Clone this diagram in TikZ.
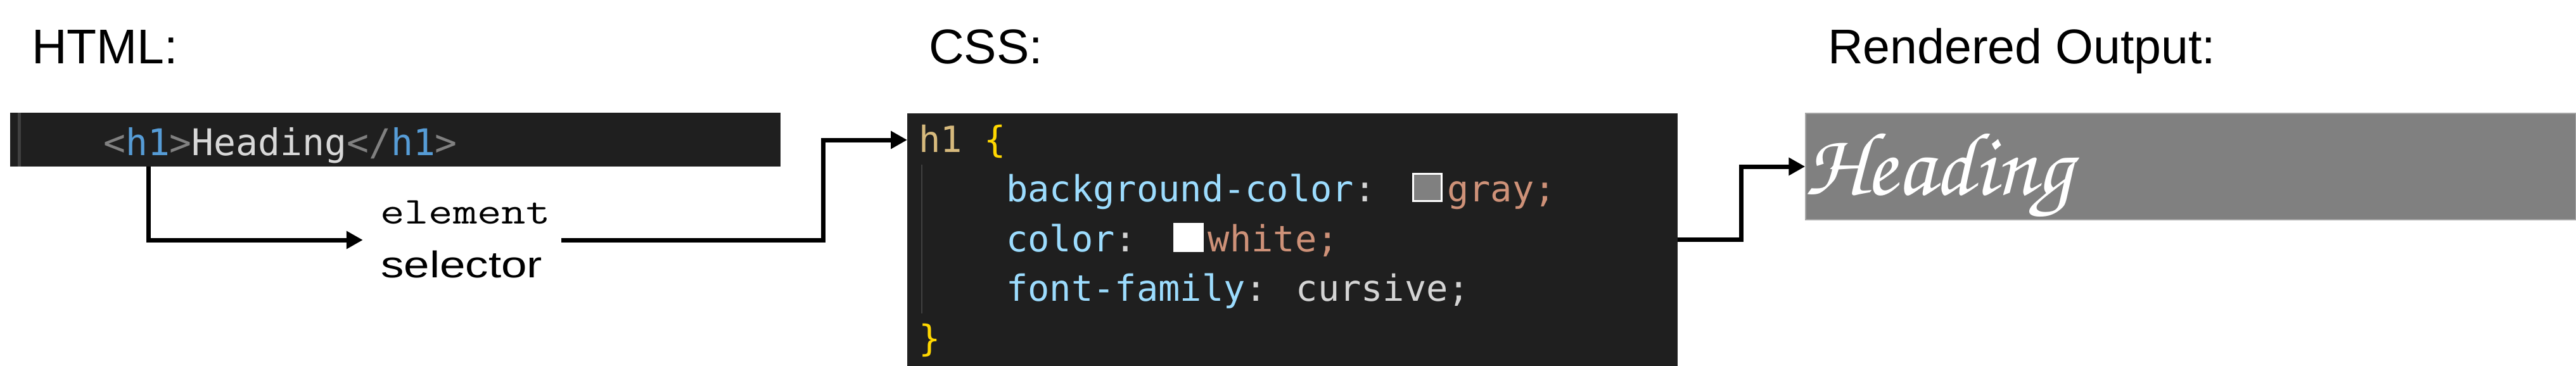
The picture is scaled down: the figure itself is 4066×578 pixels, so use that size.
\documentclass[tikz,border=0pt]{standalone}
\usepackage[T1,TU]{fontenc}
\usepackage{fontspec}
\usepackage{graphicx}
\setmainfont{Liberation Sans}
\newfontfamily\codefont{DejaVu Sans Mono}
\usetikzlibrary{arrows.meta}
\definecolor{codebg}{HTML}{1F1F1F}
\definecolor{guidec}{HTML}{404040}
\definecolor{propc}{HTML}{9CDCFE}
\definecolor{valc}{HTML}{CE9178}
\definecolor{punctc}{HTML}{D4D4D4}
\definecolor{selc}{HTML}{D7BA7D}
\definecolor{bracec}{HTML}{FFD700}
\definecolor{tagc}{HTML}{569CD6}
\definecolor{anglec}{HTML}{808080}
\definecolor{txtc}{HTML}{D8D8D8}
\definecolor{outgray}{HTML}{808080}
\definecolor{outborder}{HTML}{A6A6A6}
\newcommand\cssswatch[1]{\hspace*{12pt}\makebox[48pt][l]{\color{white}\rule[-1pt]{48pt}{46pt}\hspace{-45pt}\color{#1}\rule[2pt]{42pt}{40pt}}\hspace*{7pt}}
\newcommand\cursivefont{\fontencoding{T1}\fontfamily{pzc}\fontseries{mb}\fontshape{it}\fontsize{142}{150}\selectfont}
\begin{document}
\begin{tikzpicture}[x=1pt,y=-1pt,
  head/.style={inner sep=0pt, anchor=base west, font=\fontsize{77}{90}\selectfont},
  panel/.style={rectangle, fill=codebg, draw=none, inner sep=0pt},
  codeh/.style={inner sep=0pt, anchor=base west, font=\codefont\fontsize{58}{60}\selectfont},
  codec/.style={inner sep=0pt, anchor=base west, font=\codefont\fontsize{57}{60}\selectfont},
  conn/.style={line width=7pt, -{Triangle[length=26pt,width=27pt]}},
  gutter/.style={draw=guidec, line width=5pt},
  guide/.style={draw=guidec, line width=2pt}]
\useasboundingbox (0,0) rectangle (4066,578);

% headings
\node[head] (lhtml) at (50,100) {HTML:};
\node[head] (lcss) at (1466,100) {CSS:};
\node[head] (lout) at (2885,100) {Rendered Output:};

% HTML code bar
\node[panel, minimum width=1216pt, minimum height=85pt] (htmlbar) at (624,220.5) {};
\draw[gutter] (30,178) -- (30,263);
\node[codeh] (htmlcode) at (163,245) {\color{anglec}<\color{tagc}h1\color{anglec}>\color{txtc}Heading\color{anglec}</\color{tagc}h1\color{anglec}>};

% CSS code box
\node[panel, minimum width=1216pt, minimum height=399pt] (cssbox) at (2040,378.5) {};
\draw[guide] (1455,260) -- (1455,495);
\node[codec] (c1) at (1450,240) {\color{selc}h1 \color{bracec}\{};
\node[codec] (c2) at (1588,318) {\color{propc}background-color\color{punctc}: \cssswatch{outgray}\color{valc}gray;};
\node[codec] (c3) at (1588,397) {\color{propc}color\color{punctc}: \cssswatch{white}\color{valc}white;};
\node[codec] (c4) at (1588,475) {\color{propc}font-family\color{punctc}: cursive;};
\node[codec] (c5) at (1450,554) {\color{bracec}\}};

% rendered output
\node[rectangle, fill=outgray, draw=outborder, line width=1.5pt, inner sep=0pt, minimum width=1216pt, minimum height=168pt] (outbox) at (3458,263) {};
\node[inner sep=0pt, anchor=base west, text=white] (heading) at (2848,307) {\cursivefont Heading};

% element selector label
\node[inner sep=0pt, minimum width=313pt, minimum height=140pt] (sel) at (729.5,379) {};
\node[inner sep=0pt, anchor=base west] (elt) at (600,353) {\ttfamily\fontsize{60}{64}\selectfont\scalebox{1.24}[1]{element}};
\node[inner sep=0pt, anchor=base west] (slt) at (601,438) {\fontsize{58.7}{62}\selectfont\scalebox{1.24}[1]{selector}};

% connectors
\coordinate (h1tag) at (234,263);
\coordinate (cssin) at (1432,221);
\draw[conn] (h1tag) |- (sel.west);
\draw[conn] (sel.east) -- (1299,379) |- (cssin);
\draw[conn] (cssbox.east) -- (2748,378.5) |- (outbox.west);
\end{tikzpicture}
\end{document}
